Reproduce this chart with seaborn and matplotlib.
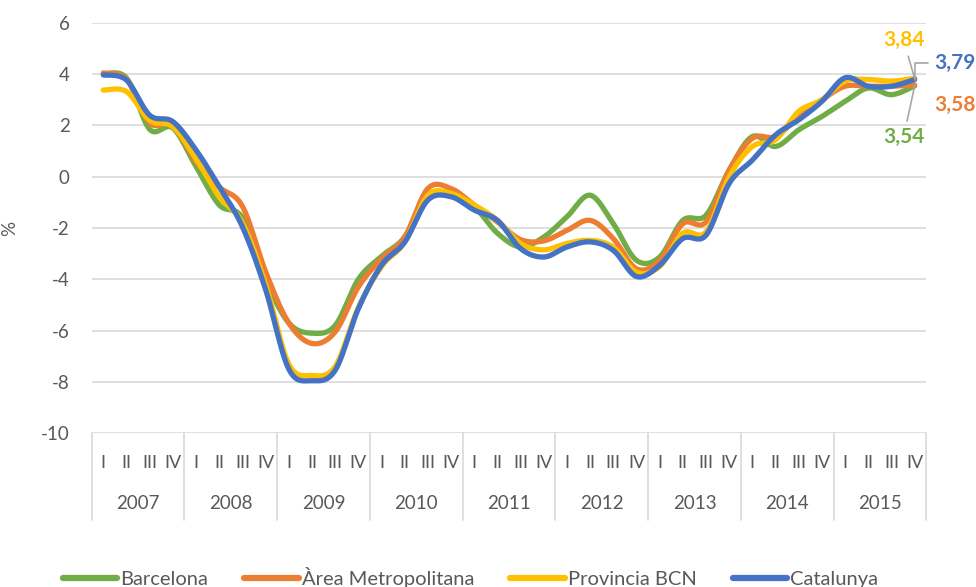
import numpy as np
import pandas as pd
import matplotlib
matplotlib.use("Agg")
import matplotlib.pyplot as plt
import seaborn as sns

# valors trimestrals 2007 I - 2015 IV
years = ['2007', '2008', '2009', '2010', '2011', '2012', '2013', '2014', '2015']
quarters = ['I', 'II', 'III', 'IV']

barcelona = [4.0, 3.85, 1.85, 1.9,
             0.4, -1.1, -1.6, -4.0,
             -5.7, -6.1, -5.8, -4.0,
             -3.1, -2.35, -0.72, -0.72,
             -1.17, -2.2, -2.74, -2.35,
             -1.56, -0.72, -1.83, -3.26,
             -3.13, -1.7, -1.5, 0.26,
             1.57, 1.18, 1.83, 2.35,
             2.94, 3.46, 3.2, 3.54]
area_metro = [4.05, 3.8, 2.1, 2.0,
              0.6, -0.4, -1.15, -3.7,
              -5.7, -6.5, -6.05, -4.3,
              -3.2, -2.35, -0.46, -0.46,
              -1.1, -1.76, -2.45, -2.5,
              -2.09, -1.7, -2.41, -3.59,
              -3.26, -1.83, -1.76, 0.26,
              1.5, 1.57, 2.35, 3.0,
              3.53, 3.53, 3.53, 3.58]
provincia = [3.38, 3.32, 2.2, 1.95,
             0.7, -0.78, -1.8, -4.2,
             -7.3, -7.75, -7.4, -5.1,
             -3.5, -2.55, -0.72, -0.65,
             -1.1, -1.7, -2.6, -2.85,
             -2.6, -2.48, -2.74, -3.72,
             -3.5, -2.2, -2.15, 0.0,
             1.18, 1.44, 2.55, 3.0,
             3.73, 3.79, 3.73, 3.84]
catalunya = [3.97, 3.77, 2.4, 2.15,
             1.04, -0.39, -1.95, -4.4,
             -7.5, -7.95, -7.55, -5.15,
             -3.45, -2.55, -0.91, -0.78,
             -1.3, -1.7, -2.8, -3.13,
             -2.74, -2.54, -2.87, -3.89,
             -3.45, -2.41, -2.28, -0.26,
             0.65, 1.63, 2.22, 2.94,
             3.86, 3.53, 3.53, 3.79]

series_names = ['Barcelona', 'Àrea Metropolitana', 'Provincia BCN', 'Catalunya']
series_vals = [barcelona, area_metro, provincia, catalunya]
colors = ['#70AD47', '#ED7D31', '#FFC000', '#4472C4']
end_labels = ['3,54', '3,58', '3,84', '3,79']


def smooth(vals, n=24):
    # corba suavitzada tipus Excel (bezier amb tangents de Catmull-Rom)
    x = np.arange(len(vals), dtype=float)
    y = np.asarray(vals, dtype=float)
    xs, ys = [], []
    t = np.linspace(0, 1, n)
    last = len(y) - 1
    for i in range(last):
        i0, i3 = max(i - 1, 0), min(i + 2, last)
        c1x = x[i] + (x[i + 1] - x[i0]) / 6
        c1y = y[i] + (y[i + 1] - y[i0]) / 6
        c2x = x[i + 1] - (x[i3] - x[i]) / 6
        c2y = y[i + 1] - (y[i3] - y[i]) / 6
        b0, b1, b2, b3 = (1 - t) ** 3, 3 * (1 - t) ** 2 * t, 3 * (1 - t) * t ** 2, t ** 3
        xs.extend(b0 * x[i] + b1 * c1x + b2 * c2x + b3 * x[i + 1])
        ys.extend(b0 * y[i] + b1 * c1y + b2 * c2y + b3 * y[i + 1])
    return np.array(xs), np.array(ys)


sns.set_theme(style="white")
plt.rcParams['font.family'] = ['Lato', 'DejaVu Sans']
grey = '#595959'

fig = plt.figure(figsize=(9.76, 5.87), dpi=100)
ax = fig.add_axes([0.094, 0.262, 0.855, 0.699])

for name, vals, col in zip(series_names, series_vals, colors):
    sx, sy = smooth(vals)
    sns.lineplot(x=sx, y=sy, ax=ax, color=col, lw=3.8, sort=False, label=name,
                 solid_capstyle='round')

ax.set_xlim(-0.5, 35.5)
ax.set_ylim(-10, 6)
ax.set_yticks(range(-10, 7, 2))
ax.set_yticklabels([str(v) for v in range(-10, 7, 2)], color=grey, fontsize=13.5)
ax.tick_params(axis='y', length=0, pad=16)
ax.set_xticks([])
ax.yaxis.grid(True, color='#d9d9d9', lw=1.2)
ax.set_axisbelow(True)
for s in ax.spines.values():
    s.set_visible(False)
ax.set_ylabel('%', color=grey, fontsize=13.5, labelpad=16)

trans = ax.get_xaxis_transform()
for k in range(len(years) + 1):
    ax.plot([k * 4 - 0.5, k * 4 - 0.5], [0, -0.212], transform=trans, color='#d9d9d9',
            lw=1.2, clip_on=False)
for j, yr in enumerate(years):
    for q, ql in enumerate(quarters):
        ax.text(j * 4 + q, -0.072, ql, transform=trans, ha='center', va='center',
                color=grey, fontsize=13)
    ax.text(j * 4 + 1.5, -0.172, yr, transform=trans, ha='center', va='center',
            color=grey, fontsize=13.5)

# etiquetes finals
offsets = [(-11, -51), (40, -20), (-11, 38), (40, 17)]
for vals, col, lab, off in zip(series_vals, colors, end_labels, offsets):
    arrow = None
    if lab != '3,58':
        arrow = dict(arrowstyle='-', color='#a6a6a6', lw=1.2, shrinkA=2, shrinkB=0)
        if lab == '3,79':
            arrow['connectionstyle'] = 'angle,angleA=180,angleB=90,rad=0'
    ax.annotate(lab, xy=(35, vals[-1]), xytext=off, textcoords='offset pixels',
                ha='center', va='center', color=col, fontsize=15, fontweight='bold',
                arrowprops=arrow, annotation_clip=False)

handles, labels = ax.get_legend_handles_labels()
ax.get_legend().remove()
leg = fig.legend(handles, labels, loc='center', bbox_to_anchor=(0.482, 0.016), ncol=4,
                 frameon=False, handlelength=2.7, handletextpad=0.15, columnspacing=1.8,
                 fontsize=14.5)
for txt in leg.get_texts():
    txt.set_color(grey)
for h in leg.legend_handles:
    h.set_linewidth(4.5)

fig.savefig('out.png', dpi=100)
